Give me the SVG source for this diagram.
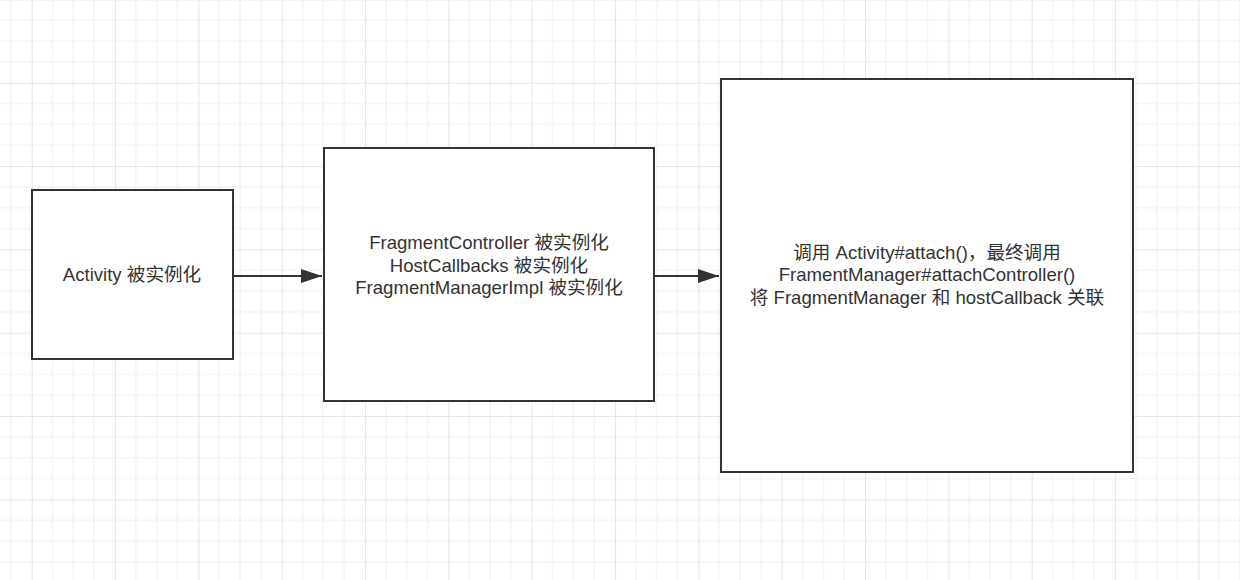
<svg xmlns="http://www.w3.org/2000/svg" width="1240" height="580" viewBox="0 0 1240 580">
  <defs>
    <pattern id="grid" x="31.67" y="-0.6" width="83.333" height="83.333" patternUnits="userSpaceOnUse">
      <path d="M20.833 0V83.333M41.667 0V83.333M62.5 0V83.333M0 20.833H83.333M0 41.667H83.333M0 62.5H83.333" stroke="#f0f0f0" stroke-width="1.2" fill="none"/>
      <path d="M0.5 0V83.333M0 0.5H83.333" stroke="#e6e6e6" stroke-width="1.2" fill="none"/>
    </pattern>
    <marker id="arrow" markerWidth="21" markerHeight="14" refX="21" refY="7" orient="auto" markerUnits="userSpaceOnUse">
      <path d="M0 0L21 7L0 14Z" fill="#333333"/>
    </marker>
    <style>
      .box { fill: #ffffff; stroke: #333333; stroke-width: 2; }
      .label { font-family: "Liberation Sans", "Noto Sans CJK SC", sans-serif; font-size: 18.6px; fill: #333333; text-anchor: middle; }
      .conn { stroke: #333333; stroke-width: 2; fill: none; }
    </style>
  </defs>
  <rect width="1240" height="580" fill="#ffffff"/>
  <rect width="1240" height="580" fill="url(#grid)"/>

  <g id="connectors">
    <line class="conn" x1="233" y1="276" x2="322" y2="276" marker-end="url(#arrow)"/>
    <line class="conn" x1="655" y1="276" x2="719" y2="276" marker-end="url(#arrow)"/>
  </g>

  <g id="node-activity">
    <rect class="box" x="32" y="190" width="201" height="169"/>
    <text class="label" x="132" y="281">Activity 被实例化</text>
  </g>

  <g id="node-fragment-controller">
    <rect class="box" x="324" y="148" width="330" height="253"/>
    <text class="label" x="489" y="249">FragmentController 被实例化</text>
    <text class="label" x="489" y="272">HostCallbacks 被实例化</text>
    <text class="label" x="489" y="294">FragmentManagerImpl 被实例化</text>
  </g>

  <g id="node-attach">
    <rect class="box" x="721" y="79" width="412" height="393"/>
    <text class="label" x="927" y="259">调用 Activity#attach()，最终调用</text>
    <text class="label" x="927" y="281">FramentManager#attachController()</text>
    <text class="label" x="927" y="304">将 FragmentManager 和 hostCallback 关联</text>
  </g>
</svg>
